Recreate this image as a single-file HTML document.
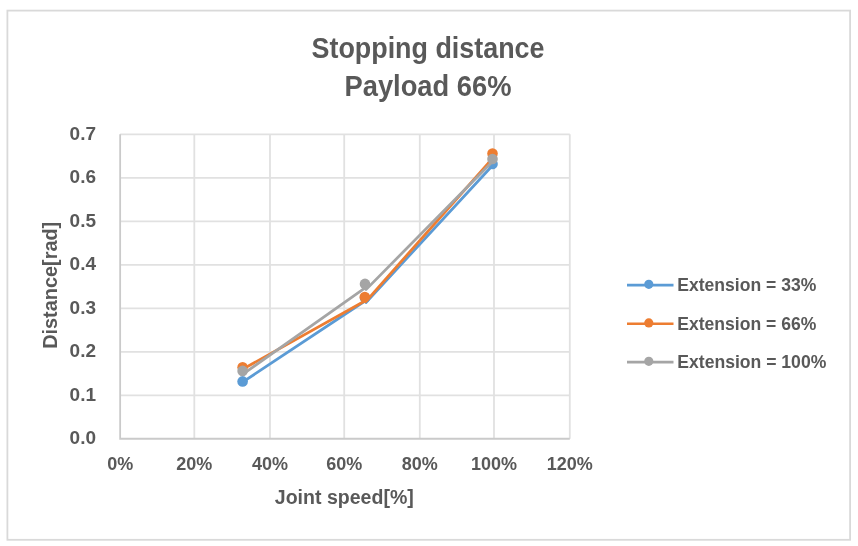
<!DOCTYPE html>
<html><head><meta charset="utf-8"><title>Stopping distance Payload 66%</title>
<style>
html,body{margin:0;padding:0;background:#fff;width:858px;height:546px;overflow:hidden}
svg{display:block;filter:blur(0.45px)}
text{font-family:"Liberation Sans",Arial,sans-serif;font-weight:bold;fill:#595959}
</style></head>
<body>
<svg width="858" height="546" viewBox="0 0 858 546">
<rect x="0" y="0" width="858" height="546" fill="#fff"/>
<rect x="7.4" y="10.6" width="842.7" height="529.2" fill="none" stroke="#d9d9d9" stroke-width="1.8"/>
<text x="428" y="57.8" font-size="29.2" text-anchor="middle" textLength="233" lengthAdjust="spacingAndGlyphs">Stopping distance</text>
<text x="428" y="96.2" font-size="29.2" text-anchor="middle" textLength="167" lengthAdjust="spacingAndGlyphs">Payload 66%</text>
<g stroke="#e1e1e1" stroke-width="1.8" fill="none"><path d="M120.15 134.36H569.8M120.15 177.86H569.8M120.15 221.36H569.8M120.15 264.86H569.8M120.15 308.36H569.8M120.15 351.86H569.8M120.15 395.36H569.8M194.30 134.36V438.77M270.00 134.36V438.77M344.20 134.36V438.77M419.80 134.36V438.77M494.00 134.36V438.77M569.80 134.36V438.77"/></g>
<path d="M120.15 134.36V438.77H569.8" stroke="#cacaca" stroke-width="1.8" fill="none"/>
<g font-size="19" text-anchor="end"><text x="96" y="139.86">0.7</text><text x="96" y="183.36">0.6</text><text x="96" y="226.86">0.5</text><text x="96" y="270.36">0.4</text><text x="96" y="313.86">0.3</text><text x="96" y="357.36">0.2</text><text x="96" y="400.86">0.1</text><text x="96" y="444.27">0.0</text></g>
<g font-size="18" text-anchor="middle"><text x="120.15" y="470.4">0%</text><text x="194.30" y="470.4">20%</text><text x="270.00" y="470.4">40%</text><text x="344.20" y="470.4">60%</text><text x="419.80" y="470.4">80%</text><text x="494.00" y="470.4">100%</text><text x="569.80" y="470.4">120%</text></g>
<text x="344.3" y="503.6" font-size="19.5" text-anchor="middle" textLength="139" lengthAdjust="spacingAndGlyphs">Joint speed[%]</text>
<text transform="translate(56.5,285.3) rotate(-90)" x="0" y="0" font-size="19.5" text-anchor="middle" textLength="127" lengthAdjust="spacingAndGlyphs">Distance[rad]</text>
<path d="M242.6 382.2L365 301.0M366 302.5L492.5 165.5" fill="none" stroke="#5b9bd5" stroke-width="2.75" stroke-linecap="round" stroke-linejoin="round"/>
<g fill="#5b9bd5"><circle cx="242.6" cy="381.4" r="5.3"/><circle cx="365" cy="297.8" r="5.3"/><circle cx="492.5" cy="164.0" r="5.3"/></g>
<path d="M242.6 369.3L364.8 301.0M365.5 301.8L492.5 158.5" fill="none" stroke="#ed7d31" stroke-width="2.75" stroke-linecap="round" stroke-linejoin="round"/>
<g fill="#ed7d31"><circle cx="242.6" cy="367.3" r="5.3"/><circle cx="364.8" cy="297.0" r="5.3"/><circle cx="492.5" cy="153.5" r="5.3"/></g>
<path d="M242.6 374.4L364.4 288.4M366 289.6L492.5 161.5" fill="none" stroke="#a5a5a5" stroke-width="2.75" stroke-linecap="round" stroke-linejoin="round"/>
<g fill="#a5a5a5"><circle cx="242.6" cy="370.9" r="5.3"/><circle cx="365.0" cy="283.9" r="5.3"/><circle cx="492.5" cy="159.0" r="5.3"/></g>
<g stroke-width="2.6" fill="none">
<path d="M627 285.1H673.5" stroke="#5b9bd5"/>
<path d="M627 323.7H673.5" stroke="#ed7d31"/>
<path d="M627 362.1H673.5" stroke="#a5a5a5"/>
</g>
<circle cx="648.8" cy="284.3" r="4.6" fill="#5b9bd5"/>
<circle cx="648.8" cy="322.9" r="4.6" fill="#ed7d31"/>
<circle cx="648.8" cy="361.3" r="4.6" fill="#a5a5a5"/>
<g font-size="17.5">
<text x="677.3" y="291.2" textLength="139" lengthAdjust="spacingAndGlyphs">Extension = 33%</text>
<text x="677.3" y="329.8" textLength="139" lengthAdjust="spacingAndGlyphs">Extension = 66%</text>
<text x="677.3" y="368.3" textLength="149" lengthAdjust="spacingAndGlyphs">Extension = 100%</text>
</g>
</svg>
</body></html>
